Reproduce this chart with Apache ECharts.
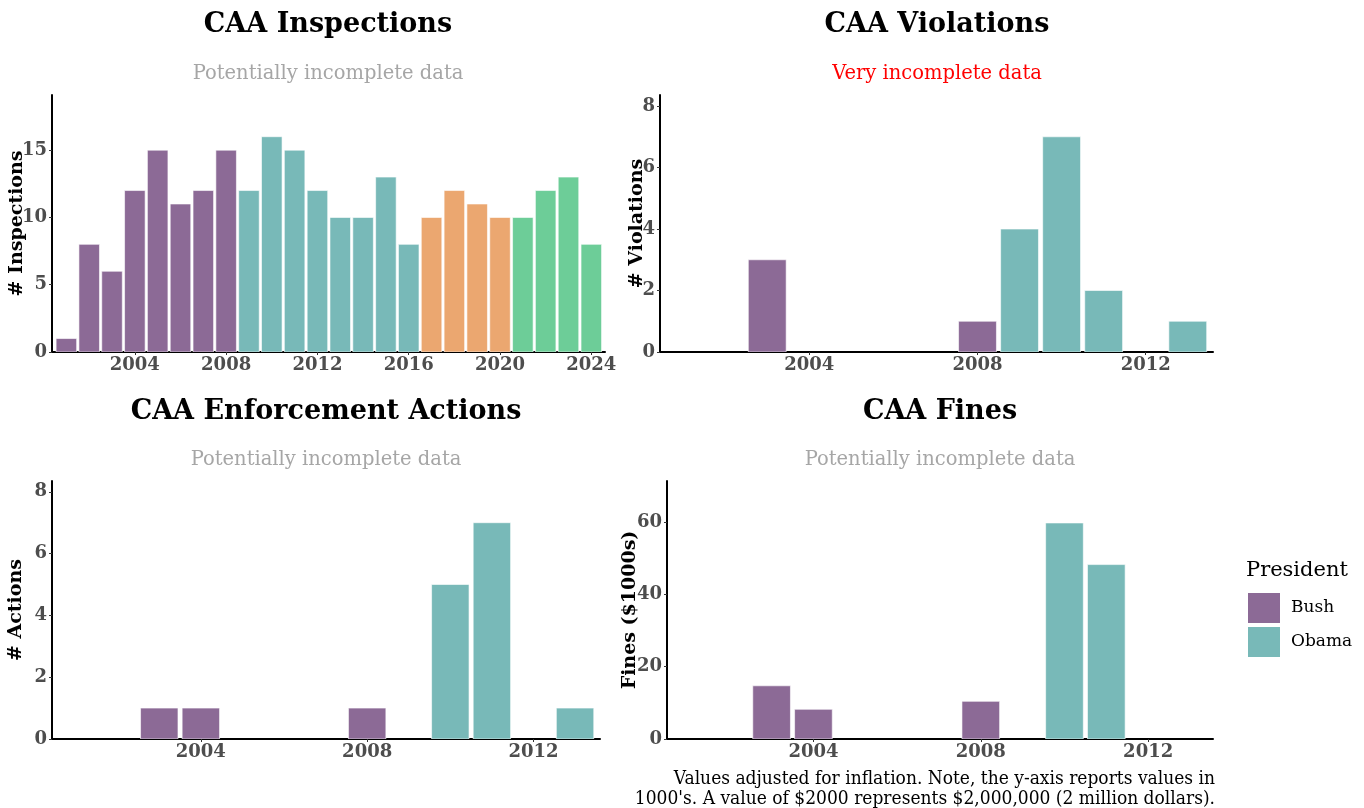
<!DOCTYPE html>
<html><head><meta charset="utf-8">
<script src="https://cdn.jsdelivr.net/npm/echarts@6/dist/echarts.min.js"></script>
<style>html,body{margin:0;padding:0;background:#fff}#c{width:1364px;height:808px}</style>
</head><body><div id="c"></div>
<script>
// ---- data ----
const inspYears = [2001,2002,2003,2004,2005,2006,2007,2008,2009,2010,2011,2012,2013,2014,2015,2016,2017,2018,2019,2020,2021,2022,2023,2024];
const inspValues = [1,8,6,12,15,11,12,15,12,16,15,12,10,10,13,8,10,12,11,10,10,12,13,8];
const violYears = [2003,2008,2009,2010,2011,2013];
const violValues = [3,1,4,7,2,1];
const actYears = [2003,2004,2008,2010,2011,2013];
const actValues = [1,1,1,5,7,1];
const fineYears = [2003,2004,2008,2010,2011];
const fineValues = [14.7,8.2,10.4,59.7,48.2];
const presidents = ['Bush','Obama','Trump','Biden'];
const presColors = {Bush:'#8C6A96', Obama:'#78B9B8', Trump:'#EBA770', Biden:'#6DCD98'};
const xTicksTop = [2004,2008,2012,2016,2020,2024];
const xTicksSmall = [2004,2008,2012];
const yTicksInsp = [0,5,10,15];
const yTicksCount = [0,2,4,6,8];
const yTicksFine = [0,20,40,60];
const captionLines = ["Values adjusted for inflation. Note, the y-axis reports values in",
                      "1000's. A value of $2000 represents $2,000,000 (2 million dollars)."];

function presidentOf(y){ return y<=2008?'Bush':(y<=2016?'Obama':(y<=2020?'Trump':'Biden')); }

const SERIF = "'DejaVu Serif', serif";
const grids = [
  {left:52, width:553, top:95, height:257},
  {left:660, width:553, top:95, height:257},
  {left:52, width:548, top:481, height:258},
  {left:667, width:546, top:481, height:258}
];
const xRanges = [[2000.37,2024.6],[2000.45,2013.6],[2000.42,2013.6],[2000.5,2013.55]];
const yRanges = [[0,19.1],[0,8.36],[0,8.35],[0,71.3]];
const xTickSets = [xTicksTop, xTicksSmall, xTicksSmall, xTicksSmall];
const yTickSets = [yTicksInsp, yTicksCount, yTicksCount, yTicksFine];
const yNames = ['# Inspections','# Violations','# Actions','Fines ($1000s)'];
const yNameGaps = [25,13,26,27];
const panels = [[inspYears,inspValues],[violYears,violValues],[actYears,actValues],[fineYears,fineValues]];

const axisLine = {show:true, lineStyle:{color:'#000', width:2}};
const labelStyle = {color:'#4d4d4d', fontFamily:SERIF, fontWeight:'bold', fontSize:18};

const xAxis = grids.map((g,i)=>({
  type:'value', gridIndex:i, min:xRanges[i][0], max:xRanges[i][1],
  splitLine:{show:false}, axisLine:axisLine,
  axisTick:{show:true, length:3, lineStyle:{color:'#333'}, customValues:xTickSets[i]},
  axisLabel:Object.assign({customValues:xTickSets[i], margin:4, formatter:v=>String(Math.round(v))}, labelStyle)
}));
const yAxis = grids.map((g,i)=>({
  type:'value', gridIndex:i, min:yRanges[i][0], max:yRanges[i][1],
  splitLine:{show:false}, axisLine:axisLine,
  axisTick:{show:true, length:3, lineStyle:{color:'#333'}, customValues:yTickSets[i]},
  axisLabel:Object.assign({customValues:yTickSets[i], margin:5, formatter:v=>String(v)}, labelStyle),
  name:yNames[i], nameLocation:'middle', nameRotate:90, nameGap:yNameGaps[i], nameMoveOverlap:false,
  nameTextStyle:{color:'#000', fontFamily:SERIF, fontWeight:'bold', fontSize:19}
}));

function renderBar(params, api){
  const x = api.value(0), v = api.value(1);
  const p0 = api.coord([x-0.45, 0]);
  const p1 = api.coord([x+0.45, v]);
  return {type:'rect', shape:{x:p0[0], y:p1[1], width:p1[0]-p0[0], height:p0[1]-p1[1]},
    style:{fill:api.visual('color'), stroke:'#fff', lineWidth:0.6}};
}

const series = [];
panels.forEach((p,i)=>{
  presidents.forEach(pr=>{
    const d = [];
    p[0].forEach((yr,k)=>{ if(presidentOf(yr)===pr) d.push([yr,p[1][k]]); });
    if(!d.length) return;
    series.push({type:'custom', name:pr, xAxisIndex:i, yAxisIndex:i, data:d,
      encode:{x:0,y:1}, renderItem:renderBar, itemStyle:{color:presColors[pr]}, clip:true, silent:true});
  });
});

const titleStyle = {color:'#000', fontFamily:SERIF, fontWeight:'bold', fontSize:27};
const subStyle = {color:'#a6a6a6', fontFamily:SERIF, fontWeight:'normal', fontSize:19.5};
const titles = [
  {text:'CAA Inspections', left:328, top:11, textAlign:'center', padding:0, textStyle:titleStyle},
  {text:'Potentially incomplete data', left:328, top:64, textAlign:'center', padding:0, textStyle:subStyle},
  {text:'CAA Violations', left:937, top:11, textAlign:'center', padding:0, textStyle:titleStyle},
  {text:'Very incomplete data', left:937, top:64, textAlign:'center', padding:0, textStyle:Object.assign({},subStyle,{color:'#ff0000'})},
  {text:'CAA Enforcement Actions', left:326, top:398, textAlign:'center', padding:0, textStyle:titleStyle},
  {text:'Potentially incomplete data', left:326, top:450, textAlign:'center', padding:0, textStyle:subStyle},
  {text:'CAA Fines', left:940, top:398, textAlign:'center', padding:0, textStyle:titleStyle},
  {text:'Potentially incomplete data', left:940, top:450, textAlign:'center', padding:0, textStyle:subStyle},
  {text:'President', left:1246, top:560, padding:0, textStyle:{color:'#000', fontFamily:SERIF, fontWeight:'normal', fontSize:21}}
];

const capFont = "19px 'DejaVu Serif Condensed', 'DejaVu Serif', serif";
const chart = echarts.init(document.getElementById('c'), null, {renderer:'canvas'});
chart.setOption({
  animation:false,
  backgroundColor:'#fff',
  title:titles,
  grid:grids,
  xAxis:xAxis, yAxis:yAxis, series:series,
  legend:{data:['Bush','Obama'], orient:'vertical', left:1248, top:593, padding:0, icon:'rect',
    itemWidth:32, itemHeight:30, itemGap:4, selectedMode:false,
    textStyle:{color:'#000', fontFamily:SERIF, fontSize:17, padding:[0,0,0,6]}},
  graphic:captionLines.map((t,k)=>({type:'text', x:1215, y:779+20*k,
    style:{text:t, align:'right', verticalAlign:'middle', fill:'#000', font:capFont}}))
});
</script></body></html>
